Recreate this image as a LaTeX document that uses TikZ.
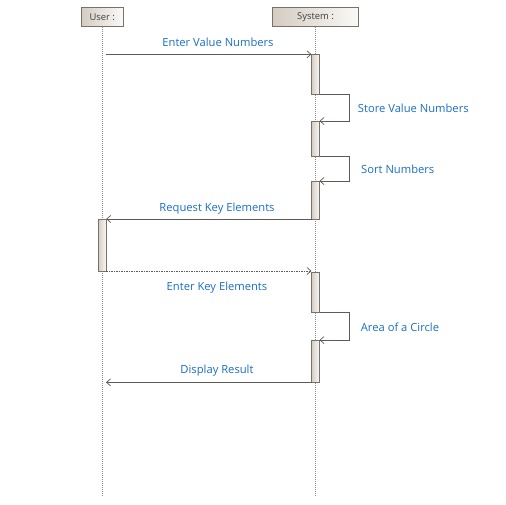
\documentclass[tikz,border=0pt]{standalone}
\usepackage{fontspec}
\setmainfont{Open Sans}
\usetikzlibrary{arrows.meta}
\definecolor{lbl}{RGB}{25,110,200}
\definecolor{ln}{RGB}{95,90,85}
\definecolor{bd}{RGB}{120,112,105}
\definecolor{shadeL}{RGB}{212,204,194}
\definecolor{shadeR}{RGB}{250,249,247}
\begin{document}
\begin{tikzpicture}[x=1pt,y=-1pt,
  head/.style={draw=bd,line width=0.7pt,left color=shadeL,right color=shadeR,inner sep=0pt,outer sep=0pt,minimum height=19pt,font=\fontsize{9.4}{10}\selectfont,text=black!75},
  act/.style={draw=bd,line width=0.7pt,left color=shadeL,right color=shadeR,inner sep=0pt,outer sep=0pt,minimum width=8pt},
  life/.style={draw=black!45,line width=0.7pt,dash pattern=on 1pt off 1pt},
  msg/.style={draw=ln,line width=0.8pt,-{Straight Barb[length=4pt,width=7pt,line width=0.7pt]}},
  lab/.style={text=lbl,font=\fontsize{11.2}{12}\selectfont,inner sep=0pt}]
\useasboundingbox (0,0) rectangle (506,504);
% headers
\node[head,minimum width=42pt] (u) at (102.2,17.3) {User :};
\node[head,minimum width=86pt] (s) at (315.5,17.3) {System :};
\coordinate (uend) at (102.2,496);
\coordinate (send) at (315.5,496);
\draw[life] (u.south) -- (uend);
\draw[life] (s.south) -- (send);
% activations
\node[act,minimum height=39.7pt] (a1) at (315.5,74.15) {};
\node[act,minimum height=35pt] (a2) at (315.5,138.5) {};
\node[act,minimum height=38pt] (a3) at (315.5,200) {};
\node[act,minimum height=40pt] (a4) at (315.5,292.3) {};
\node[act,minimum height=42.3pt] (a5) at (315.5,361.2) {};
\node[act,minimum height=52pt] (u1) at (102.2,245) {};
% messages
\coordinate (m1s) at (106,54.3);
\draw[msg] (m1s) -- (m1s -| a1.west);
\node[lab] (l1) at (218,42) {Enter Value Numbers};
\draw[msg] (a1.south east) -- ++(29.8,0) |- (a2.north east);
\node[lab,anchor=west] (l2) at (357.7,108.3) {Store Value Numbers};
\draw[msg] (a2.south east) -- ++(29.8,0) |- (a3.north east);
\node[lab,anchor=west] (l3) at (361,169.5) {Sort Numbers};
\draw[msg] (a3.south west) -- (u1.north east);
\node[lab] (l4) at (217,208.3) {Request Key Elements};
\draw[msg,dash pattern=on 1.5pt off 1pt] (u1.south east) -- (u1.south east -| a4.west);
\node[lab] (l5) at (217,287.3) {Enter Key Elements};
\draw[msg] (a4.south east) -- ++(29.8,0) |- (a5.north east);
\node[lab,anchor=west] (l6) at (360.7,327.7) {Area of a Circle};
\coordinate (ue) at (106,382.3);
\draw[msg] (a5.south west) -- (a5.south west -| ue);
\node[lab] (l7) at (217,371) {Display Result};
\end{tikzpicture}
\end{document}
